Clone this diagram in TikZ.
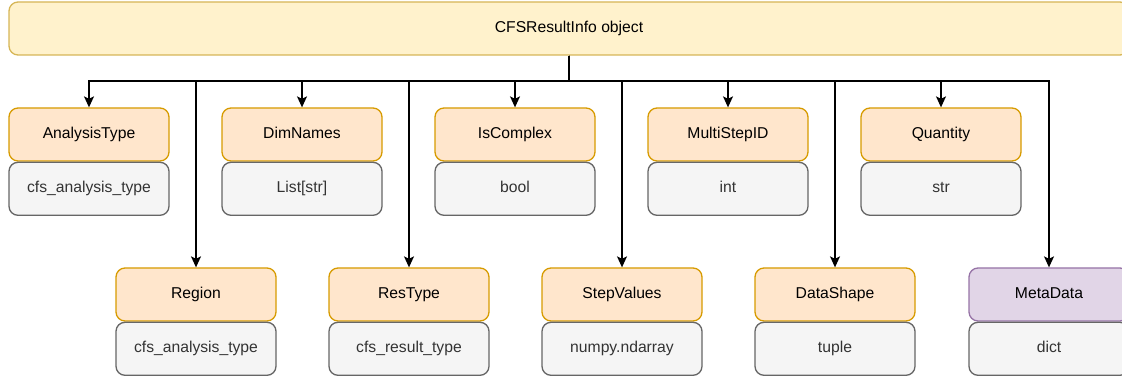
\documentclass[tikz,border=0pt]{standalone}
\usepackage{fontspec}
\setmainfont{Liberation Sans}
\usetikzlibrary{positioning,arrows.meta}

\definecolor{amarillo}{HTML}{FFF2CC}
\definecolor{amarilloborde}{HTML}{D6B656}
\definecolor{naranja}{HTML}{FFE6CC}
\definecolor{naranjaborde}{HTML}{D79B00}
\definecolor{gris}{HTML}{F5F5F5}
\definecolor{grisborde}{HTML}{666666}
\definecolor{gristexto}{HTML}{333333}
\definecolor{lila}{HTML}{E1D5E7}
\definecolor{lilaborde}{HTML}{9673A6}

\tikzset{
  caja/.style={rounded corners=9pt, line width=1.3pt, inner sep=0pt,
    minimum width=160pt, minimum height=53pt, text height=11.5pt, text depth=3.5pt},
  objeto/.style={caja, fill=amarillo, draw=amarilloborde, minimum width=1120pt},
  campo/.style={caja, fill=naranja, draw=naranjaborde},
  meta/.style={caja, fill=lila, draw=lilaborde},
  tipo/.style={caja, fill=gris, draw=grisborde, text=gristexto},
  flecha/.style={line width=1.4pt, -{Stealth[length=11pt,width=10pt,inset=2.5pt]}}
}

\begin{document}
\begin{tikzpicture}[x=1pt,y=-1pt,font=\fontsize{15.7}{18}\selectfont]
%marco de la figura
\useasboundingbox (0,0) rectangle (1122,379);
\clip (0,0) rectangle (1122,379);

%caja del objeto
\node[objeto] (info) at (569,28.5) {CFSResultInfo object};
\coordinate (bus) at (569,81);

%fila de arriba
\foreach \cx/\nm/\lbl/\typ in {89/atype/AnalysisType/cfs\_analysis\_type,
    302/dnames/DimNames/List[str], 515/iscomplex/IsComplex/bool,
    728/msid/MultiStepID/int, 941/quantity/Quantity/str}
{
  \node[campo] (\nm) at (\cx,134.5) {\lbl};
  \node[tipo, below=0pt of \nm] (\nm-t) {\typ};
  \draw[flecha] (info.south) -- (bus) -| (\nm.north);
}

%fila de abajo
\foreach \cx/\nm/\lbl/\typ/\st in {196/region/Region/cfs\_analysis\_type/campo,
    409/restype/ResType/cfs\_result\_type/campo,
    622/stepvals/StepValues/numpy.ndarray/campo,
    835/dshape/DataShape/tuple/campo, 1049/mdata/MetaData/dict/meta}
{
  \node[\st] (\nm) at (\cx,294.5) {\lbl};
  \node[tipo, below=0pt of \nm] (\nm-t) {\typ};
  \draw[flecha] (info.south) -- (bus) -| (\nm.north);
}
\end{tikzpicture}
\end{document}
